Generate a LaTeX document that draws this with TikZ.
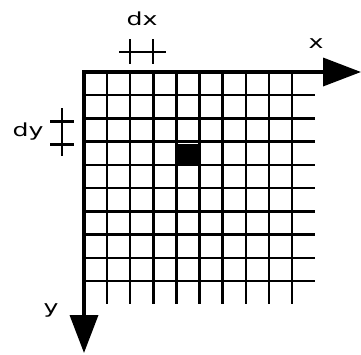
\documentclass[tikz,border=0pt]{standalone}
\usepackage{fontspec}
\setmainfont{DejaVu Sans}
\newfontfamily\lblfont[FakeStretch=1.4]{DejaVu Sans}
\usetikzlibrary{arrows.meta}
\begin{document}
\begin{tikzpicture}[x=1pt,y=-1pt,
  gridline/.style={line width=2.4pt},
  axisline/.style={line width=3.6pt,line cap=rect,-{Triangle[length=38pt,width=28pt]}},
  marker/.style={line width=2.2pt},
  lbl/.style={font=\lblfont\fontsize{18}{18}\selectfont, inner sep=0pt}]
\useasboundingbox (0,0) rectangle (361,354);
% grid
\foreach \i in {1,...,9} \draw[gridline] (84+23.11*\i,72) -- (84+23.11*\i,304);
\foreach \j in {1,...,9} \draw[gridline] (84,72+23.22*\j) -- (315,72+23.22*\j);
% highlighted cell
\fill (177.5,143.5) rectangle (200,166);
% axes
\coordinate (o) at (84,72);
\coordinate (xe) at (361,72);
\coordinate (ye) at (84,353);
\draw[axisline] (o) -- (xe);
\draw[axisline] (o) -- (ye);
% dx marker
\coordinate (dxl) at (119,52);
\coordinate (dxr) at (166,52);
\draw[marker] (dxl) -- (dxr);
\draw[marker] (130.2,39) -- (130.2,64);
\draw[marker] (153.3,39) -- (153.3,64);
\node[lbl] (dx) at (142,19) {dx};
% dy marker
\coordinate (dyt) at (62,108);
\coordinate (dyb) at (62,156);
\draw[marker] (dyt) -- (dyb);
\draw[marker] (50,121.5) -- (74,121.5);
\draw[marker] (50,144.5) -- (74,144.5);
\node[lbl] (dy) at (28,132) {dy};
% axis labels
\node[lbl] (xl) at (316,44) {x};
\node[lbl] (yl) at (51,310) {y};
\end{tikzpicture}
\end{document}
